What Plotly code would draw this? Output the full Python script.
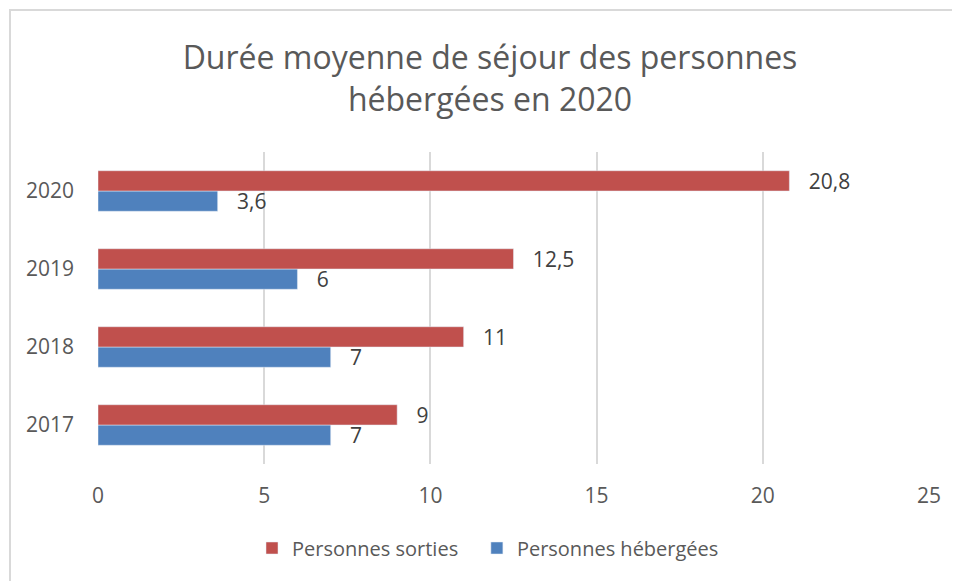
import plotly.graph_objects as go

years = ["2017", "2018", "2019", "2020"]
hebergees = [7, 7, 6, 3.6]
sorties = [9, 11, 12.5, 20.8]
x_ticks = [0, 5, 10, 15, 20, 25]

title_text = "Durée moyenne de séjour des personnes<br>hébergées en 2020"

RED = "#C0504D"
BLUE = "#4F81BD"
GRAY = "#595959"
FONT = "Open Sans"
PAD = "\u00a0\u00a0\u00a0"
LEG_GAP = "\u00a0\u00a0\u2009"

fig = go.Figure()
fig.add_trace(go.Bar(
    y=years, x=hebergees, orientation="h", name="Personnes hébergées",
    marker=dict(color=BLUE), texttemplate=PAD + "%{x}", textposition="outside",
    constraintext="none",
    textfont=dict(family=FONT, size=21, color="#404040"), cliponaxis=False,
))
fig.add_trace(go.Bar(
    y=years, x=sorties, orientation="h", name="Personnes sorties" + LEG_GAP,
    marker=dict(color=RED), texttemplate=PAD + "%{x}", textposition="outside",
    constraintext="none",
    textfont=dict(family=FONT, size=21, color="#404040"), cliponaxis=False,
))

OFF = 8  # page offset of the figure in the screenshot
W, H = 960, 581
L, T = 98 - OFF, 152 - OFF
pw, ph = 831, 312
R, B = W - L - pw, H - T - ph

def px_x(p):
    return (p - OFF - L) / pw

def px_y(p):
    return (H - B - (p - OFF)) / ph

fig.update_layout(
    width=W, height=H,
    margin=dict(l=L, r=R, t=T, b=B, autoexpand=False),
    paper_bgcolor="white", plot_bgcolor="white",
    separators=", ",
    barmode="group", bargap=0.48, bargroupgap=0,
    font=dict(family=FONT, color=GRAY),
    title=dict(text=title_text, x=482 / W, xanchor="center",
               y=1 - 61 / H, yanchor="middle", yref="container",
               font=dict(family=FONT, size=32, color=GRAY)),
    xaxis=dict(range=[0, 25], tickvals=x_ticks, showgrid=True,
               gridcolor="#D9D9D9", gridwidth=1.5, zeroline=False,
               showline=False, ticks="", ticklabelstandoff=17, automargin=False,
               tickfont=dict(family=FONT, size=21, color=GRAY)),
    yaxis=dict(showgrid=False, zeroline=False, showline=False, ticks="",
               ticklabelstandoff=23, automargin=False,
               tickfont=dict(family=FONT, size=21, color=GRAY)),
    legend=dict(orientation="h", traceorder="reversed",
                x=px_x(488), xanchor="center", y=px_y(548), yanchor="middle",
                font=dict(family=FONT, size=20, color=GRAY),
                itemwidth=30),
    showlegend=True,
    shapes=[dict(type="rect", xref="paper", yref="paper",
                 x0=px_x(10), x1=px_x(985), y0=px_y(600), y1=px_y(10),
                 line=dict(color="#D9D9D9", width=2), layer="below")],
)

fig.write_html("out.html")
